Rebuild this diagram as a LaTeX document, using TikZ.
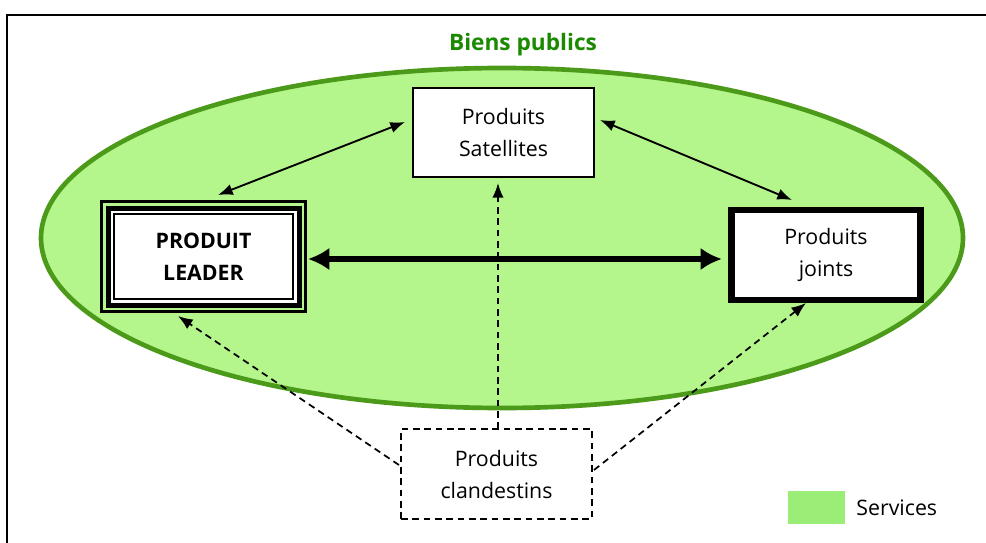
\documentclass[tikz,border=0pt]{standalone}
\usepackage{fontspec}
\setmainfont{Open Sans}
\usetikzlibrary{positioning,arrows.meta}
\definecolor{zone}{HTML}{B4F58C}
\definecolor{zoneline}{HTML}{4C9A1A}
\definecolor{service}{HTML}{9AEE77}
\definecolor{titlegreen}{HTML}{1A8A00}
\tikzset{
  boxtxt/.style={align=center,font=\fontsize{16}{24}\selectfont,outer sep=0pt,fill=white},
  plainbox/.style={boxtxt,draw,line width=1.7pt},
  hidbox/.style={boxtxt,draw,line width=1.3pt,dash pattern=on 5pt off 3.5pt},
  link/.style={line width=1.4pt,{Latex[length=11pt,width=8.5pt]}-{Latex[length=11pt,width=8.5pt]}},
  hidlink/.style={line width=1.3pt,dash pattern=on 5pt off 3.5pt,-{Latex[length=11pt,width=8.5pt]}}
}

\begin{document}
\begin{tikzpicture}[x=0.75pt,y=-0.75pt]
\useasboundingbox (0,0) rectangle (986,543);
\draw[line width=2.2pt] (7,543)--(7,15)--(986,15);
\draw[fill=zone,draw=zoneline,line width=3.5pt] (502,238) ellipse [x radius=461,y radius=170];
\node[titlegreen,font=\fontsize{17}{20}\selectfont\bfseries] (title) at (523,45) {Biens publics};
% les produits
\node[plainbox,minimum width=135.75pt,minimum height=66.75pt] (sat) at (503.5,132.5) {Produits\\Satellites};
\node[boxtxt,draw,line width=3.75pt,minimum width=143.25pt,minimum height=72.75pt,font=\fontsize{16}{24}\selectfont\bfseries] (leader) at (203.5,256.5) {PRODUIT\\LEADER};
\draw[line width=1.6pt] ([shift={(-6.5,-6.5)}]leader.north west) rectangle ([shift={(6.5,6.5)}]leader.south east);
\draw[line width=2pt] ([shift={(6,6)}]leader.north west) rectangle ([shift={(-6,-6)}]leader.south east);
\node[boxtxt,draw,line width=4.9pt,minimum width=142pt,minimum height=67.5pt] (joints) at (826,255) {Produits\\joints};
\node[hidbox,minimum width=143.25pt,minimum height=67.5pt] (cland) at (496.5,474) {Produits\\clandestins};
% liens
\draw[link] ([shift={(-8,-10.5)}]sat.west)--([shift={(14.5,-13)}]leader.north);
\draw[link] ([shift={(6,-12.5)}]sat.east)--([shift={(-34,-10)}]joints.north);
\draw[line width=4.8pt,{Latex[length=16pt,width=17pt]}-{Latex[length=16pt,width=17pt]}] ([shift={(9,2.5)}]leader.east)--([shift={(-9.5,4)}]joints.west);
\draw[hidlink] ([shift={(1.5,0)}]cland.north)--([shift={(-5.5,6)}]sat.south);
\draw[hidlink] ([shift={(-2,-9)}]cland.west)--([shift={(-25.5,11)}]leader.south);
\draw[hidlink] ([shift={(2,-4)}]cland.east)--([shift={(-20,3)}]joints.south);
% legende
\node[fill=service,minimum width=42.75pt,minimum height=24.75pt,outer sep=0pt] (legend) at (816.5,507.5) {};
\node[right=5pt of legend,font=\fontsize{16}{18}\selectfont] (svclab) {Services};
\end{tikzpicture}
\end{document}
